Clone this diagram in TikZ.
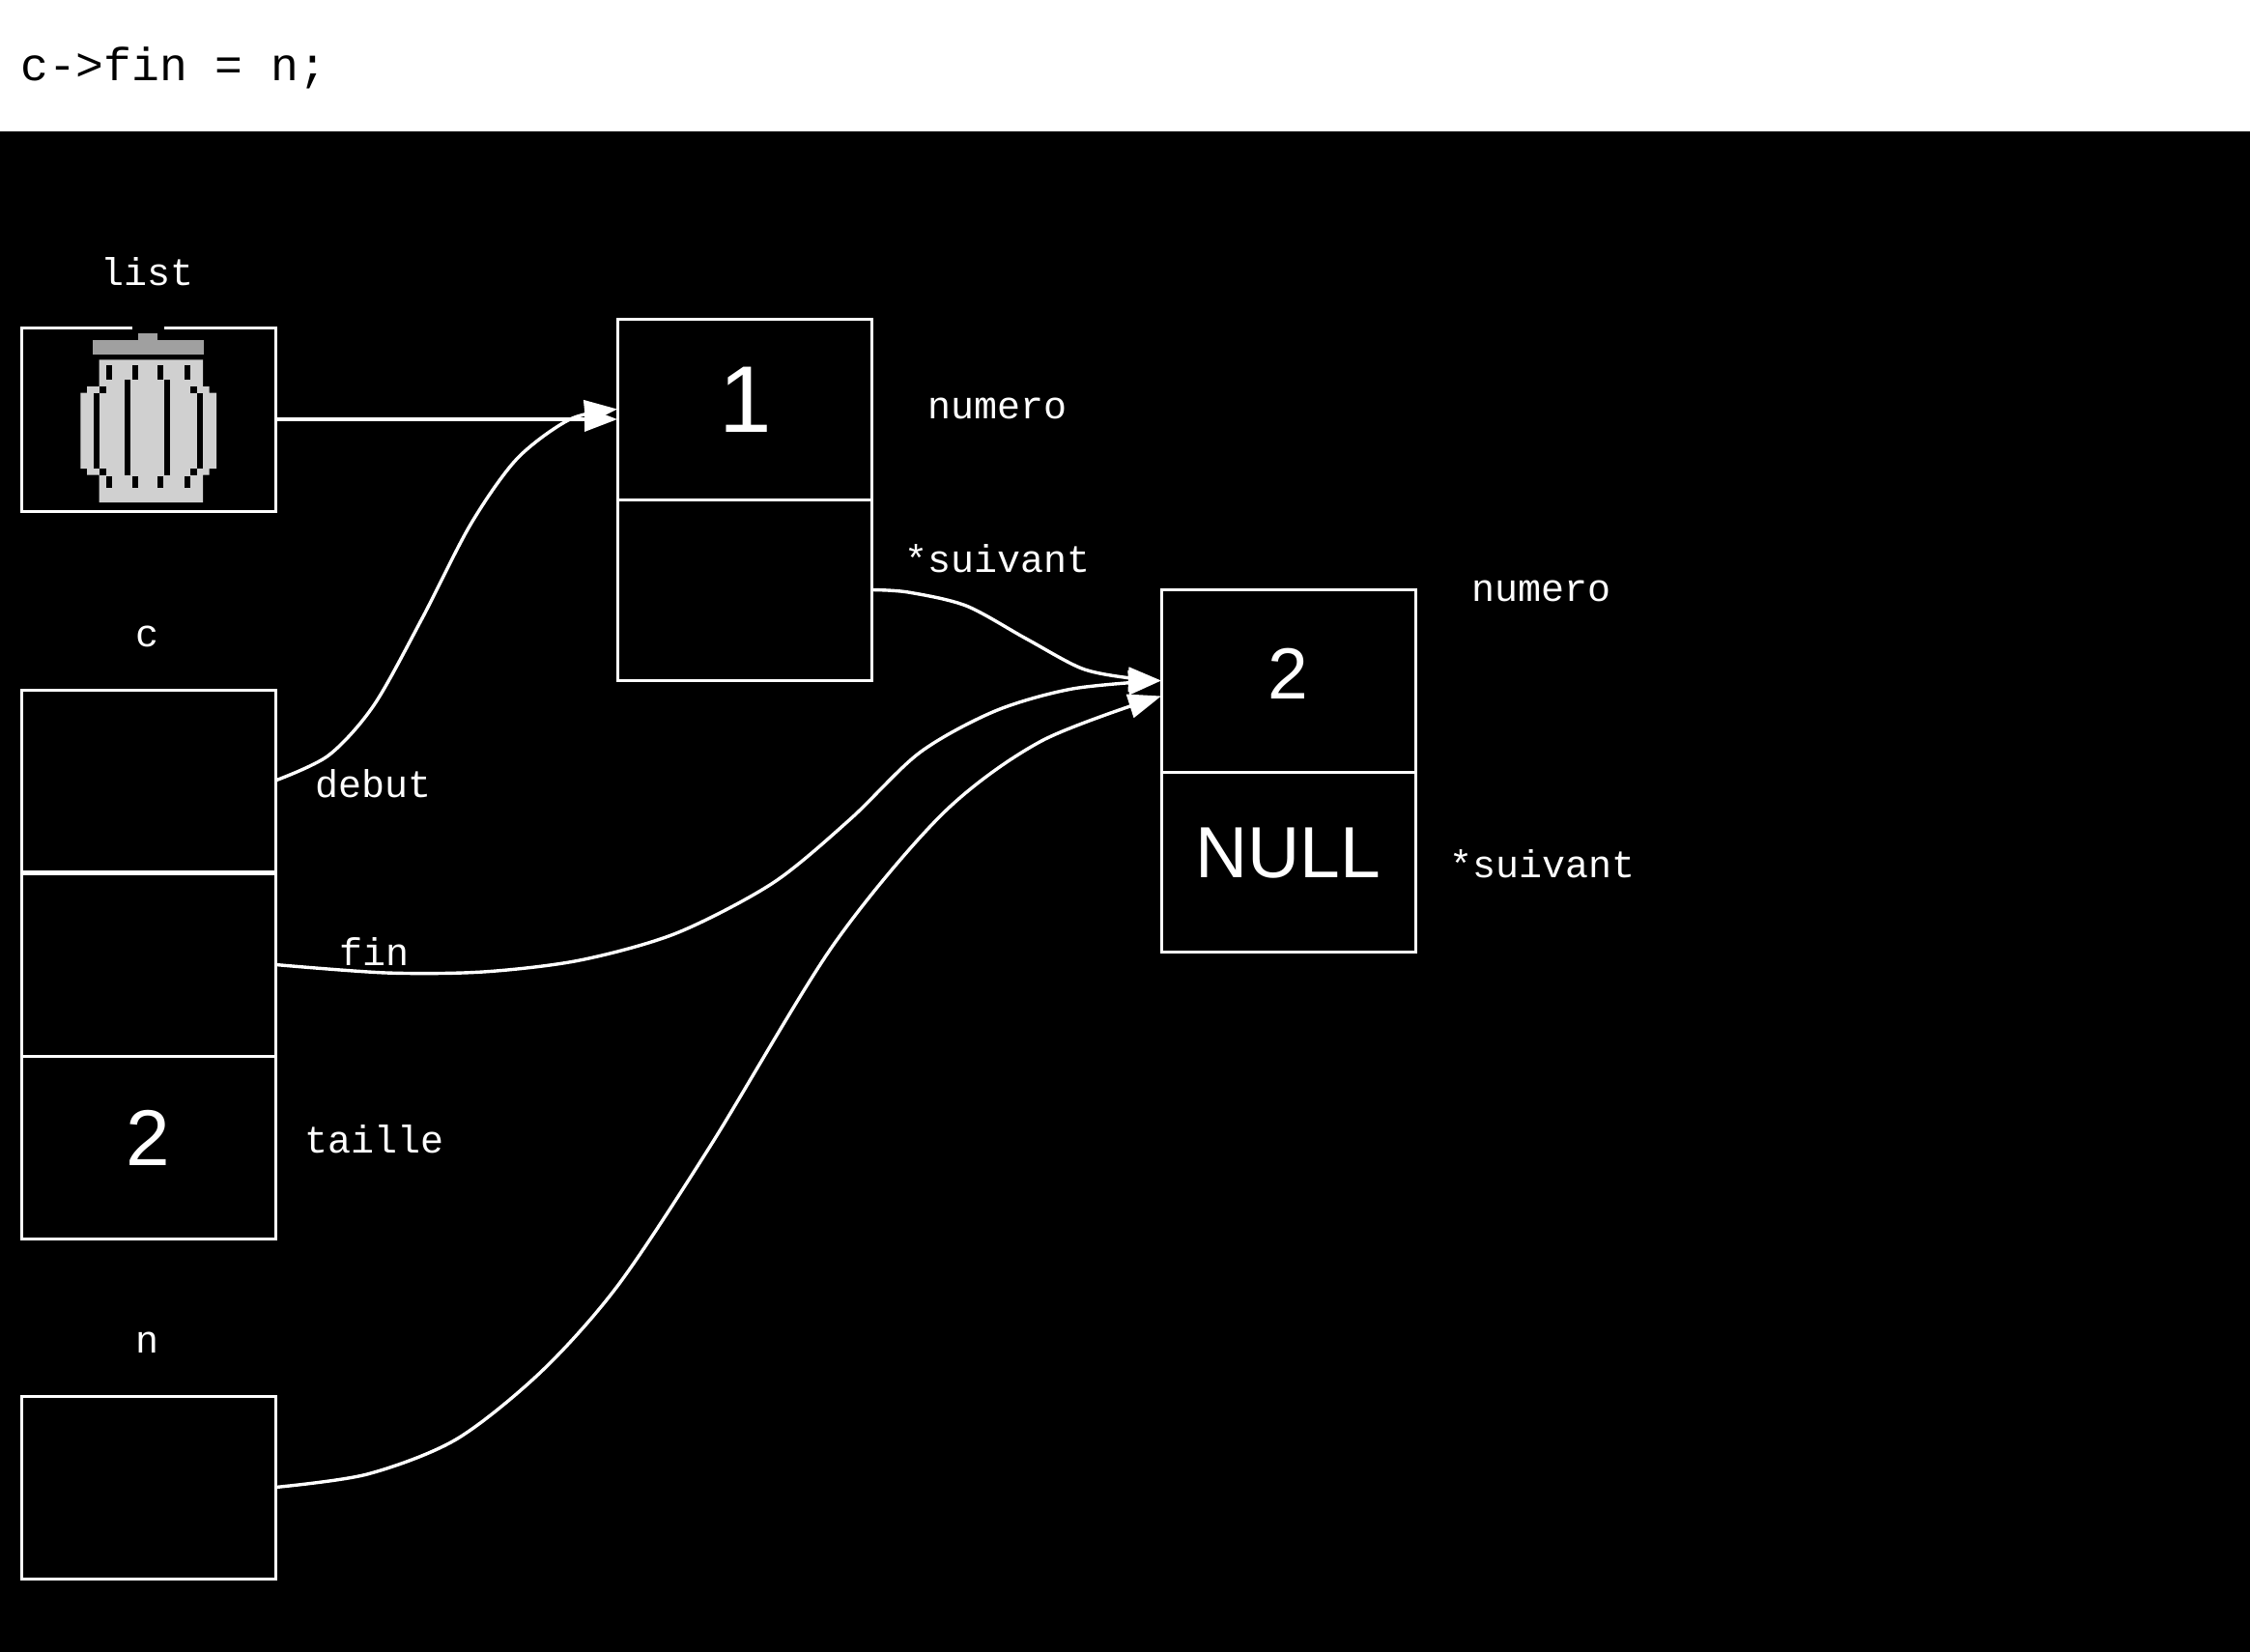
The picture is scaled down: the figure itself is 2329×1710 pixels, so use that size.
\documentclass[tikz,border=0pt]{standalone}
\usepackage{fontspec}
\setmainfont{Liberation Sans}
\newfontfamily\monofont{Liberation Mono}
\usetikzlibrary{arrows.meta,calc}
\definecolor{lidgray}{HTML}{A0A0A0}
\definecolor{bodygray}{HTML}{D0D0D0}
\begin{document}
\begin{tikzpicture}[x=1pt,y=-1pt,
  cell/.style={draw=white, line width=3pt, minimum width=263pt, inner sep=0pt, outer sep=0pt, rectangle},
  lbl/.style={text=white, font=\monofont\fontsize{40}{48}\selectfont, inner sep=0pt, anchor=base},
  bigtxt/.style={text=white, inner sep=0pt, anchor=base},
  conn/.style={draw=white, line width=3.4pt, -{Triangle[length=34pt,width=25pt]}}]
\useasboundingbox (0,0) rectangle (2329,1710);
\fill[white] (0,0) rectangle (2329,136);
\fill[black] (0,136) rectangle (2329,1710);
\node[anchor=base west, inner sep=0pt, font=\monofont\fontsize{48}{58}\selectfont] (code) at (21,83) {c->fin = n;};
% cells
\node[cell, minimum height=190pt] (list) at (153.5,434) {};
\node[cell, minimum height=188pt] (c1) at (153.5,808) {};
\node[cell, minimum height=189pt] (c2) at (153.5,998.5) {};
\node[cell, minimum height=189pt] (c3) at (153.5,1187.5) {};
\node[cell, minimum height=189pt] (nbox) at (153.5,1539.5) {};
\node[cell, minimum height=187pt] (b1top) at (770.5,423.5) {};
\node[cell, minimum height=187pt] (b1bot) at (770.5,610.5) {};
\node[cell, minimum height=189pt] (b2top) at (1333.5,704.5) {};
\node[cell, minimum height=186pt] (b2bot) at (1333.5,892) {};
% trash icon
\fill[black] (137,336) rectangle (170,344);
\fill[lidgray] (143,345) rectangle (163,353);
\fill[lidgray] (96,352) rectangle (211,367);
\fill[bodygray] (102.7,372.3) -- (102.7,400) -- (90,400) -- (90,406.7) -- (83.3,406.7) -- (83.3,485) -- (90,485) -- (90,491.7) -- (102.7,491.7) -- (102.7,520)
  -- (210,520) -- (210,491.7) -- (216.7,491.7) -- (216.7,485) -- (224,485) -- (224,406.7) -- (216.7,406.7) -- (216.7,400) -- (210,400) -- (210,372.3) -- cycle;
\foreach \sx in {110,136.7,163,190.7}{
  \fill[black] (\sx,378) rectangle ++(6,15);
  \fill[black] (\sx,493) rectangle ++(6,12);
}
\fill[black] (96.7,406.7) rectangle (102.7,485);
\fill[black] (129,393) rectangle (135,492);
\fill[black] (170,393) rectangle (176,492);
\fill[black] (203.5,406.7) rectangle (209.5,485);
\fill[black] (103,400) rectangle (110,406.7);
\fill[black] (197,400) rectangle (203.5,406.7);
\fill[black] (103,485) rectangle (110,492);
\fill[black] (197,485) rectangle (203.5,492);
% labels
\node[lbl] (tlist) at (153,295) {list};
\node[lbl] (tc) at (153,669) {c};
\node[lbl] (tn) at (153,1400) {n};
\node[lbl] (tdebut) at (387,825) {debut};
\node[lbl] (tfin) at (388,999) {fin};
\node[lbl] (ttaille) at (388,1193) {taille};
\node[lbl] (tnum1) at (1033,433) {numero};
\node[lbl] (tsuiv1) at (1033,592) {*suivant};
\node[lbl] (tnum2) at (1595,622) {numero};
\node[lbl] (tsuiv2) at (1596,908) {*suivant};
% values
\node[bigtxt, font=\fontsize{98}{110}\selectfont] (v1) at (771.5,447) {1};
\node[bigtxt, font=\fontsize{75}{90}\selectfont] (v2) at (1333.5,723) {2};
\node[bigtxt, font=\fontsize{75}{90}\selectfont] (vnull) at (1333.5,908) {NULL};
\node[bigtxt, font=\fontsize{82}{98}\selectfont] (vt) at (153.5,1206) {2};
% connectors
\coordinate (b2in) at ($(b2top.west)+(0,16)$);
\draw[conn] (list.east) -- (list.east -| b1top.west);
\draw[conn] plot[smooth] coordinates {(c1.east) (340,782) (387,730) (437,640) (487,543) (535,475) (590,434) (b1top.west)};
\draw[conn] plot[smooth] coordinates {(b1bot.east) (940,613) (1000,627) (1062,661) (1120,692) (1170,702) (b2top.west)};
\draw[conn] plot[smooth] coordinates {(c2.east) (400,1007) (500,1006) (600,994) (700,966) (800,914) (880,848) (952,779) (1030,736) (1110,713) (b2top.west)};
\draw[conn] plot[smooth] coordinates {(nbox.east) (380,1526) (472,1490) (560,1420) (640,1330) (736,1185) (862,979) (976,842) (1078,767) (b2in)};
\end{tikzpicture}
\end{document}
